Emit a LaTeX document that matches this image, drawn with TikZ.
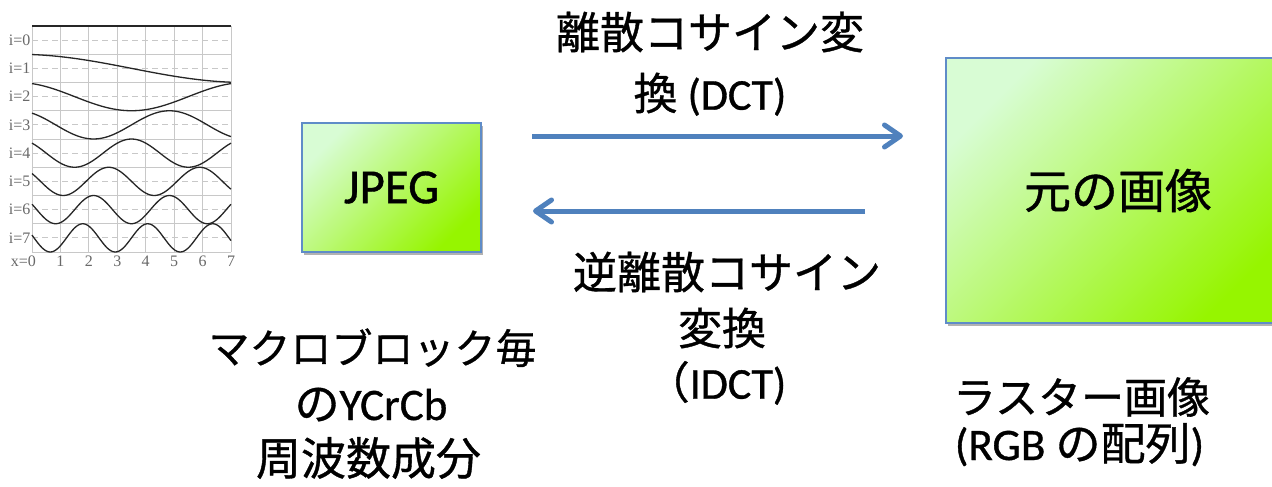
\documentclass[tikz,border=0pt]{standalone}
\usepackage{fontspec}
\setmainfont[RawFeature={embolden=0.8}]{Carlito}
\newfontfamily\jp[RawFeature={embolden=0.8}]{Noto Sans CJK JP}
\newfontfamily\chartfont{Liberation Serif}
\usetikzlibrary{arrows.meta,shadows}
\definecolor{arrowblue}{RGB}{79,129,189}
\definecolor{boxedge}{RGB}{95,140,200}
\definecolor{boxlight}{RGB}{216,252,212}
\definecolor{boxdark}{RGB}{150,245,0}
\definecolor{gridgray}{RGB}{200,200,200}
\definecolor{labelgray}{RGB}{105,105,105}
\begin{document}
\begin{tikzpicture}[x=1pt,y=-1pt,
  greenbox/.style={draw=boxedge, line width=2pt, top color=boxlight, bottom color=boxdark, shading angle=45,
    drop shadow={opacity=0.3, fill=black, shadow xshift=2pt, shadow yshift=-3pt}, inner sep=0pt},
  flow/.style={draw=arrowblue, line width=5pt, -{Straight Barb[length=16pt,width=22pt,round]}},
  gridline/.style={draw=gridgray, line width=0.9pt},
  gridmid/.style={draw=gridgray, line width=0.9pt, dash pattern=on 6pt off 4pt},
  wave/.style={draw=black!85, line width=1.3pt},
  chartlab/.style={font=\chartfont\fontsize{16}{16}\selectfont, text=labelgray, inner sep=0pt},
  jptext/.style={anchor=base, inner sep=0pt, font=\jp\fontsize{#1}{#1}\selectfont},
  mixtext/.style={anchor=base, inner sep=0pt, font=\fontsize{#1}{#1}\selectfont}
]
\useasboundingbox (0,0) rectangle (1272,487);
\clip (0,0) rectangle (1272,487);
\fill[white] (0,0) rectangle (1272,487);

% ---- DCT basis chart ----
\foreach \k in {0,...,8} \draw[gridline] (32,{26+28.25*\k}) -- (231,{26+28.25*\k});
\foreach \k in {0,...,7} \draw[gridmid] (32,{40.125+28.25*\k}) -- (231,{40.125+28.25*\k});
\foreach \u in {0,...,7} \draw[gridline] ({32+28.43*\u},26) -- ({32+28.43*\u},252);
\foreach \i in {0,...,7}
  \draw[wave] plot[domain=0:7,samples=140,smooth] ({32+28.43*\x},{40.125+28.25*\i-14.1*cos((2*\x+1)*\i*11.25)});
\foreach \i in {0,...,7}
  \node[chartlab, anchor=east] (row\i) at (30.5,{40.125+28.25*\i}) {i=\i};
\node[chartlab, anchor=east] (col0) at (36,261) {x=0};
\foreach \u in {1,...,7}
  \node[chartlab] (col\u) at ({32+28.43*\u},261) {\u};

% ---- boxes ----
\node[greenbox, minimum width=179pt, minimum height=129pt,
      font=\fontsize{49}{49}\selectfont] (jpeg) at (391.5,187.5) {JPEG};
\node[greenbox, minimum width=344pt, minimum height=265pt,
      font=\jp\fontsize{47}{47}\selectfont] (orig) at (1118,190.5) {元の画像};

% ---- arrows ----
\coordinate (dctS) at (532,136);
\coordinate (dctE) at (903,136);
\coordinate (idctS) at (865,211);
\coordinate (idctE) at (533,211);
\draw[flow] (dctS) -- (dctE);
\draw[flow] (idctS) -- (idctE);

% ---- labels ----
\node[jptext=44] (dct1) at (710,48.7) {離散コサイン変};
\node[mixtext=44] (dct2) at (710,109.7) {{\jp 換} (DCT)};

\node[jptext=44] (idct1) at (727,288.7) {逆離散コサイン};
\node[jptext=44] (idct2) at (722,344.7) {変換};
\node[mixtext=44] (idct3) at (716,398.7) {{\jp （}IDCT)};

\node[jptext=41] (mb1) at (372.5,363.6) {マクロブロック毎};
\node[mixtext=45] (mb2) at (371,420) {{\jp の}YCrCb};
\node[jptext=45] (mb3) at (368.5,475) {周波数成分};

\node[jptext=43] (ras1) at (1081.5,413.3) {ラスター画像};
\node[mixtext=45] (ras2) at (1079.5,460) {(RGB {\jp の配列})};
\end{tikzpicture}
\end{document}
